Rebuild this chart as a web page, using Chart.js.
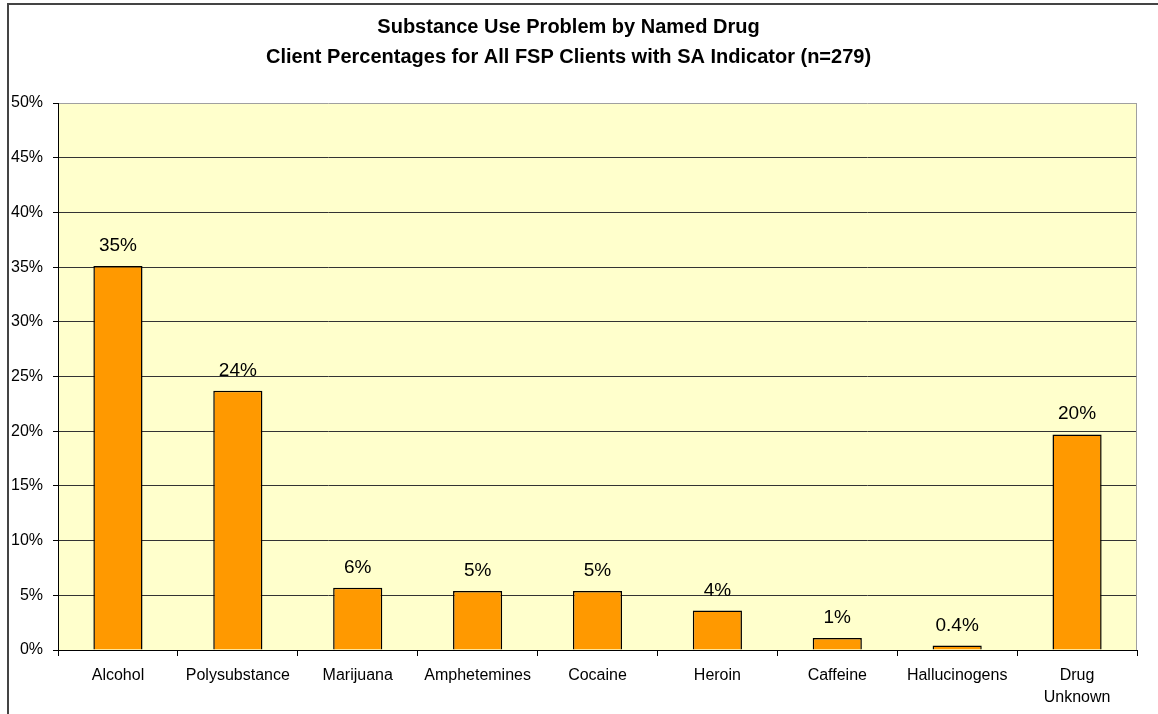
<!DOCTYPE html>
<html lang="en">

<head>
    <meta charset="UTF-8">
    <title>Substance Use Problem by Named Drug</title>
    <script src="https://cdn.jsdelivr.net/npm/chart.js"></script>
    <style>
        body {
            margin: 0;
            padding: 0;
            background-color: white;
            overflow: hidden;
            width: 1158px;
            height: 714px;
            position: relative;
        }

        #frame {
            position: absolute;
            left: 7px;
            top: 3px;
            width: 1300px;
            height: 900px;
            border-left: 2px solid #444;
            border-top: 2px solid #444;
        }

        #chart {
            position: absolute;
            left: 0;
            top: 0;
        }
    </style>
</head>

<body>
    <div id="frame"></div>
    <canvas id="chart" width="1158" height="714"></canvas>

    <script>
        // share of clients per named drug (n=279)
        const drugs = ["Alcohol", "Polysubstance", "Marijuana", "Amphetemines", "Cocaine",
            "Heroin", "Caffeine", "Hallucinogens", ["Drug", "Unknown"]];
        const percentages = [35.1, 23.7, 5.7, 5.4, 5.4, 3.6, 1.1, 0.4, 19.7];
        const titleLines = ["Substance Use Problem by Named Drug",
            "Client Percentages for All FSP Clients with SA Indicator (n=279)"];

        const fontFamily = "'Liberation Sans', Arial, sans-serif";

        function formatPercent(v) {
            return v < 1 ? v.toFixed(1) + "%" : Math.round(v) + "%";
        }

        // yellow plot area with grey right edge
        const plotArea = {
            id: "plotArea",
            beforeDraw(chart) {
                const { ctx, chartArea: a } = chart;
                ctx.save();
                ctx.fillStyle = "#FFFFCC";
                ctx.fillRect(a.left, a.top, a.right - a.left, a.bottom - a.top);
                ctx.restore();
            },
            beforeDatasetsDraw(chart) {
                const { ctx, chartArea: a } = chart;
                ctx.save();
                ctx.strokeStyle = "#a0a0a0";
                ctx.lineWidth = 1;
                ctx.beginPath();
                ctx.moveTo(a.right - 0.5, a.top);
                ctx.lineTo(a.right - 0.5, a.bottom);
                ctx.stroke();
                ctx.restore();
            }
        };

        // value labels above each bar
        const barLabels = {
            id: "barLabels",
            afterDatasetsDraw(chart) {
                const { ctx } = chart;
                const meta = chart.getDatasetMeta(0);
                ctx.save();
                ctx.font = "19px " + fontFamily;
                ctx.fillStyle = "#000";
                ctx.textAlign = "center";
                ctx.textBaseline = "alphabetic";
                meta.data.forEach((bar, i) => {
                    ctx.fillText(formatPercent(percentages[i]), bar.x, bar.y - 15);
                });
                ctx.restore();
            }
        };

        new Chart(document.getElementById("chart"), {
            type: "bar",
            data: {
                labels: drugs,
                datasets: [
                    {
                        data: percentages,
                        backgroundColor: "#FF9900",
                        borderColor: "#000",
                        borderWidth: 1.5,
                        categoryPercentage: 1,
                        barPercentage: 0.41,
                    },
                ],
            },
            options: {
                responsive: false,
                animation: false,
                layout: {
                    padding: { left: 0, right: 21, top: 0, bottom: 0 },
                },
                plugins: {
                    legend: { display: false },
                    tooltip: { enabled: false },
                    title: {
                        display: true,
                        text: titleLines,
                        color: "#000",
                        font: { family: fontFamily, size: 20, weight: "bold", lineHeight: 1.5 },
                        padding: { top: 12, bottom: 31 },
                    },
                },
                scales: {
                    x: {
                        afterFit(scale) {
                            scale.height = 64;
                        },
                        border: { display: true, color: "#000", width: 1 },
                        grid: {
                            offset: true,
                            drawOnChartArea: false,
                            drawTicks: true,
                            tickLength: 6,
                            color: "#000",
                        },
                        ticks: {
                            color: "#000",
                            padding: 9,
                            maxRotation: 0,
                            autoSkip: false,
                            font: { family: fontFamily, size: 16, lineHeight: 1.375 },
                        },
                    },
                    y: {
                        min: 0,
                        max: 50,
                        afterFit(scale) {
                            scale.width = 58;
                        },
                        border: { display: true, color: "#000", width: 1 },
                        grid: {
                            color: ctx => (ctx.tick && ctx.tick.value === 50 ? "#a0a0a0" : "#333"),
                            tickColor: "#000",
                            tickLength: 5,
                        },
                        ticks: {
                            stepSize: 5,
                            color: "#000",
                            padding: 10,
                            font: { family: fontFamily, size: 16 },
                            callback: v => v + "%",
                        },
                    },
                },
            },
            plugins: [plotArea, barLabels],
        });
    </script>
</body>

</html>
